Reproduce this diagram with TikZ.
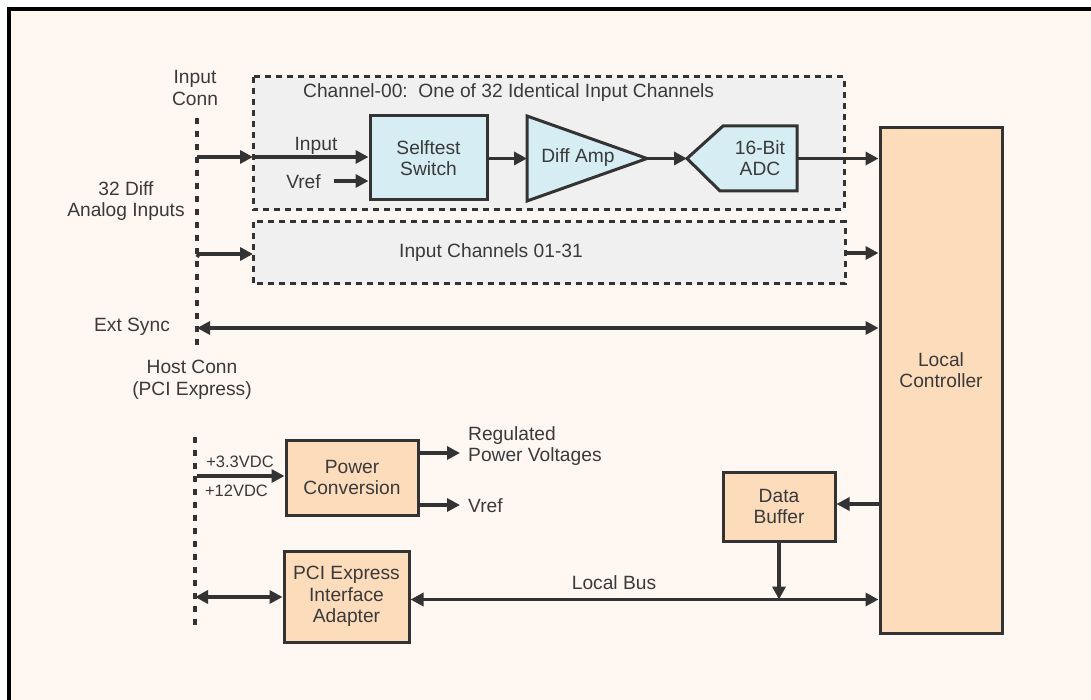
\documentclass[tikz,border=0pt]{standalone}
\usepackage{fontspec}
\setmainfont{Liberation Sans}
\usetikzlibrary{arrows.meta}
\definecolor{bgc}{HTML}{FFF7F2}
\definecolor{panelc}{HTML}{F0F0F0}
\definecolor{bluec}{HTML}{D6EEF3}
\definecolor{orangec}{HTML}{FDDCBB}
\definecolor{linec}{HTML}{333333}
\definecolor{textc}{HTML}{3A3A3A}
\tikzset{
  txt/.style={text=textc, inner sep=0pt, font=\fontsize{19.2}{21.5}\selectfont, align=center},
  smalltxt/.style={text=textc, inner sep=0pt, font=\fontsize{16.5}{19}\selectfont, align=center},
  bluebox/.style={draw=linec, line width=3pt, fill=bluec, txt},
  orangebox/.style={draw=linec, line width=3pt, fill=orangec, txt},
  panel/.style={draw=linec, line width=3pt, fill=panelc, dash pattern=on 6pt off 5pt},
  connline/.style={draw=linec, line width=4pt, dash pattern=on 6pt off 7pt},
  conn/.style={draw=linec, line width=3.5pt, -{Triangle[length=13pt,width=13pt]}},
  dconn/.style={draw=linec, line width=3.5pt, {Triangle[length=13pt,width=13pt]}-{Triangle[length=13pt,width=13pt]}},
  shapeline/.style={draw=linec, line width=3pt, fill=bluec, line join=miter}
}
\begin{document}
\begin{tikzpicture}[x=1pt,y=-1pt]
\useasboundingbox (0,0) rectangle (1091,700);
\clip (0,0) rectangle (1091,700);
\fill[white] (0,0) rectangle (1091,700);
\draw[line width=4pt, fill=bgc] (8.5,9) rectangle (1120,730);

% panels
\draw[panel] (253,77) rectangle (844,210);
\draw[panel] (253,222) rectangle (845,284);
\node[txt, anchor=west] (chtitle) at (303,93) {Channel-00:\ \ One of 32 Identical Input Channels};
\node[txt] (ch0131) at (491,253) {Input Channels 01-31};
\coordinate (chL) at (253,157);
\coordinate (chRin) at (845,253);

% connector lines
\coordinate (icTop) at (197,118);
\coordinate (icBot) at (197,350);
\draw[connline] (icTop) -- (icBot);
\coordinate (hcTop) at (195,437);
\coordinate (hcBot) at (195,632);
\draw[connline] (hcTop) -- (hcBot);

% labels on left
\node[txt] (inconn) at (195,88) {Input\\Conn};
\node[txt] (diff32) at (126,201) {32 Diff\\Analog Inputs};
\node[txt] (extsync) at (132,327) {Ext Sync};
\node[txt] (hostconn) at (192,380) {Host Conn\\(PCI Express)};

% blocks
\node[bluebox, minimum width=117pt, minimum height=84pt] (sw) at (428.5,158) {Selftest\\Switch};
\coordinate (ampA) at (527,116);
\coordinate (ampB) at (527,201);
\coordinate (ampTip) at (647,158.5);
\draw[shapeline] (ampA) -- (ampTip) -- (ampB) -- cycle;
\node[txt] (amp) at (578,158) {Diff Amp};
\coordinate (adcL) at (687,158.5);
\draw[shapeline] (adcL) -- (723,126) -- (797,126) -- (797,191) -- (720,191) -- cycle;
\coordinate (adcR) at (797,158.5);
\node[txt] (adc) at (760,158) {16-Bit\\ADC};

\node[orangebox, minimum width=122pt, minimum height=505pt] (lc) at (941,380.5) {};
\node[txt] (lctext) at (941,370) {Local\\Controller};
\node[orangebox, minimum width=132pt, minimum height=75pt] (pc) at (352,477.5) {Power\\Conversion};
\node[orangebox, minimum width=125pt, minimum height=91pt] (pci) at (346.5,596.5) {PCI Express\\Interface\\Adapter};
\node[orangebox, minimum width=112pt, minimum height=69pt] (db) at (779,506.5) {Data\\Buffer};

% channel-00 connections
\coordinate (inS) at (197,157);
\draw[conn] (inS) -- (chL);
\draw[conn] (chL) -- (sw.west |- chL);
\node[txt] (inputlbl) at (316,146) {Input};
\coordinate (vrefS) at (334,181);
\draw[conn] (vrefS) -- (sw.west |- vrefS);
\node[txt] (vreflbl) at (303.5,182) {Vref};
\draw[conn] (sw.east |- ampTip) -- (ampA |- ampTip);
\draw[conn] (ampTip) -- (adcL);
\draw[conn] (adcR) -- (lc.west |- adcR);

% channels 01-31
\coordinate (in2S) at (199,254);
\draw[draw=linec, line width=3.5pt] (197,257) -- (in2S);
\draw[conn] (in2S) -- (253,254);
\draw[conn] (chRin) -- (lc.west |- chRin);

% ext sync
\coordinate (esS) at (197,328);
\draw[dconn] (esS) -- (lc.west |- esS);

% power
\coordinate (pwS) at (197,476);
\draw[conn] (pwS) -- (pc.west |- pwS);
\node[smalltxt] (v33) at (240,462) {+3.3VDC};
\node[smalltxt] (v12) at (236.5,491) {+12VDC};
\coordinate (regE) at (460,453);
\draw[conn] (pc.east |- regE) -- (regE);
\node[txt, anchor=west, align=left] (reglbl) at (468,446) {Regulated\\Power Voltages};
\coordinate (vrefE) at (460,505);
\draw[conn] (pc.east |- vrefE) -- (vrefE);
\node[txt, anchor=west] (vref2) at (468,506) {Vref};

% PCI
\coordinate (pciS) at (195,597);
\draw[dconn] (pciS) -- (pci.west |- pciS);
\coordinate (busY) at (600,599.5);
\draw[dconn] (pci.east |- busY) -- (lc.west |- busY);
\node[txt] (busl) at (614,583) {Local Bus};

% data buffer
\coordinate (dbY) at (600,504);
\draw[conn] (lc.west |- dbY) -- (db.east |- dbY);
\draw[conn] (db.south) -- (db.south |- busY);
\end{tikzpicture}
\end{document}
